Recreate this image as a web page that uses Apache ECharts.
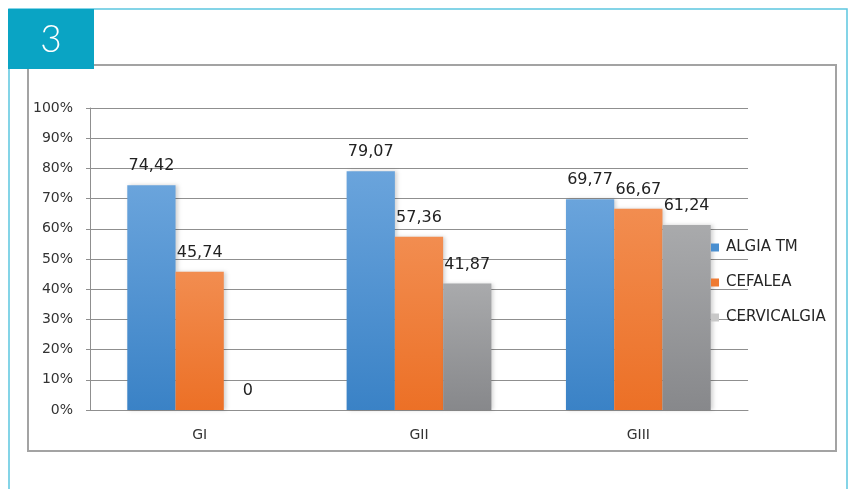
<!DOCTYPE html>
<html>
<head>
<meta charset="utf-8">
<script src="https://cdn.jsdelivr.net/npm/echarts@6/dist/echarts.min.js"></script>
<style>
  html, body { margin: 0; padding: 0; background: #ffffff; }
  #chart { width: 849px; height: 489px; }
</style>
</head>
<body>
<div id="chart"></div>
<script>
// Groups and percentage values per symptom
const categories = ['GI', 'GII', 'GIII'];
const algiaTM = [74.42, 79.07, 69.77];
const cefalea = [45.74, 57.36, 66.67];
const cervicalgia = [0, 41.87, 61.24];
const seriesNames = ['ALGIA TM', 'CEFALEA', 'CERVICALGIA'];
const yTicks = [0, 10, 20, 30, 40, 50, 60, 70, 80, 90, 100];

const FONT = '"DejaVu Sans", "Liberation Sans", sans-serif';

function vGrad(top, bottom) {
  return new echarts.graphic.LinearGradient(0, 0, 0, 1, [
    { offset: 0, color: top },
    { offset: 1, color: bottom }
  ]);
}

const palette = [
  { top: '#6aa4dc', bottom: '#3a82c6', legend: '#4a8fd0' },
  { top: '#f28d50', bottom: '#ec7026', legend: '#ef7b33' },
  { top: '#a9aaac', bottom: '#87888b', legend: '#c8c8c8' }
];

const seriesData = [algiaTM, cefalea, cervicalgia];

const chart = echarts.init(document.getElementById('chart'), null, { renderer: 'canvas' });

chart.setOption({
  animation: false,
  backgroundColor: '#ffffff',
  graphic: [
    // outer figure frame
    { type: 'rect', z: 0, shape: { x: 9, y: 9, width: 838, height: 500 },
      style: { fill: 'none', stroke: '#5cc6df', lineWidth: 1.5 } },
    // chart area frame
    { type: 'rect', z: 0, shape: { x: 28, y: 65, width: 808, height: 386 },
      style: { fill: 'none', stroke: '#a3a3a3', lineWidth: 2 } },
    // figure number tab
    { type: 'rect', z: 1, shape: { x: 8, y: 9, width: 86, height: 60 },
      style: { fill: '#0aa4c4' } },
    { type: 'text', z: 2, x: 51, y: 40,
      style: { text: '3', fill: '#ffffff', align: 'center', verticalAlign: 'middle',
               font: '300 37px Lato, "Open Sans", sans-serif' } }
  ],
  grid: { left: 90, right: 101, top: 108, bottom: 79, containLabel: false },
  legend: {
    orient: 'vertical',
    left: 706,
    top: 235,
    itemWidth: 8,
    itemHeight: 8,
    itemGap: 20,
    icon: 'rect',
    textStyle: { fontFamily: FONT, fontSize: 15, color: '#262626', padding: [0, 0, 0, 2] },
    data: seriesNames.map((n, i) => ({ name: n, itemStyle: { color: palette[i].legend } }))
  },
  xAxis: {
    type: 'category',
    data: categories,
    axisLine: { show: true, lineStyle: { color: '#8f8f8f', width: 1 } },
    axisTick: { show: false },
    axisLabel: { fontFamily: FONT, fontSize: 14, color: '#333333', margin: 18 }
  },
  yAxis: {
    type: 'value',
    min: 0,
    max: 100,
    interval: 10,
    axisLine: { show: true, lineStyle: { color: '#8f8f8f', width: 1 } },
    axisTick: { show: true, length: 4, lineStyle: { color: '#8f8f8f' } },
    axisLabel: {
      fontFamily: FONT, fontSize: 14, color: '#333333', margin: 17,
      formatter: v => (yTicks.includes(v) ? v + '%' : '')
    },
    splitLine: { show: true, lineStyle: { color: '#8f8f8f', width: 1 } }
  },
  series: seriesNames.map((name, i) => ({
    name: name,
    type: 'bar',
    data: seriesData[i],
    barGap: '0%',
    barCategoryGap: '34%',
    itemStyle: {
      color: vGrad(palette[i].top, palette[i].bottom),
      shadowColor: 'rgba(0,0,0,0.18)',
      shadowBlur: 4,
      shadowOffsetX: 2
    },
    label: {
      show: true,
      position: 'top',
      distance: 11,
      fontFamily: FONT,
      fontSize: 16,
      color: '#222222',
      formatter: p => (p.value === 0 ? '0' : p.value.toFixed(2).replace('.', ','))
    }
  }))
});
</script>
</body>
</html>
